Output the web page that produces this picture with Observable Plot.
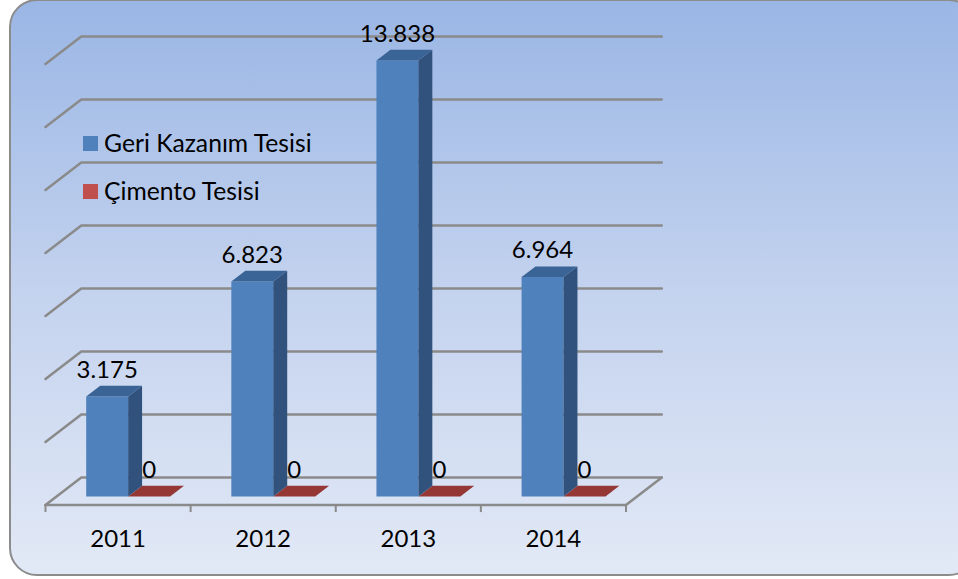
<!DOCTYPE html>
<html>
<head>
<meta charset="utf-8">
<script src="https://cdn.jsdelivr.net/npm/d3@7"></script>
<script src="https://cdn.jsdelivr.net/npm/@observablehq/plot@0.6"></script>
<style>
  html, body { margin: 0; padding: 0; background: #fff; }
  #stage { position: relative; width: 958px; height: 579px; overflow: hidden; font-family: Lato, sans-serif; color: #000; }
  #panel { position: absolute; box-sizing: border-box; left: 8.5px; top: -1px; width: 968px; height: 577px; border: 2px solid #8c8c8c; border-radius: 28px;
           background: linear-gradient(180deg, #9ab6e5 0%, #c3d2ee 50%, #e2e9f6 100%); }
  #chart { position: absolute; left: 0; top: 0; }
  #chart svg { background: transparent; display: block; }
  .lg { position: absolute; left: 83px; display: flex; align-items: center; font-size: 24.7px; line-height: 1; }
  .lg i { display: inline-block; width: 15px; height: 15px; margin-right: 6px; }
</style>
</head>
<body>
<div id="stage">
  <div id="panel"></div>
  <div id="chart"></div>
  <div class="lg" style="top:131px"><i style="background:#4f81bd"></i><span>Geri Kazanım Tesisi</span></div>
  <div class="lg" style="top:179px"><i style="background:#c0504d"></i><span>Çimento Tesisi</span></div>
</div>
<script>
const years = ["2011", "2012", "2013", "2014"];
const geriKazanim = [3175, 6823, 13838, 6964];
const cimento = [0, 0, 0, 0];
const gridValues = [0, 2000, 4000, 6000, 8000, 10000, 12000, 14000];
const fmt = v => d3.format(",")(v).replace(/,/g, ".");

// Oblique projection: depth d (0 front .. 1 back) shifts both scales by a data-unit amount.
const depthX = 0.2465, depthY = 873;
const P = (u, v, d) => ({x: u + depthX * d, y: v + depthY * d});

const barStart = 0.204, barW = 0.289, d0 = 0.31, d1 = 0.70;

function poly(id, pts) { return pts.map(p => ({id, ...p})); }

const front = [], side = [], top_ = [], redTop = [];
years.forEach((yr, i) => {
  const a = i + barStart, b = a + barW, c = b + barW, v = geriKazanim[i], w = cimento[i];
  front.push(...poly(yr, [P(a,0,d0), P(b,0,d0), P(b,v,d0), P(a,v,d0)]));
  side.push(...poly(yr, [P(b,0,d0), P(b,0,d1), P(b,v,d1), P(b,v,d0)]));
  top_.push(...poly(yr, [P(a,v,d0), P(b,v,d0), P(b,v,d1), P(a,v,d1)]));
  redTop.push(...poly(yr, [P(b,w,d0), P(c,w,d0), P(c,w,d1), P(b,w,d1)]));
});

const grid = gridValues.flatMap(v => poly(v, [P(0,v,0), P(0,v,1), P(4,v,1)]));
const floorEdge = poly("floor", [P(0,0,0), P(4,0,0), P(4,0,1)]);
const ticks = d3.range(0, 5);

const face = (data, fill) => Plot.line(data, {x: "x", y: "y", z: "id", fill, stroke: "none", curve: "linear"});

const labels = years.flatMap((yr, i) => {
  const a = i + barStart, b = a + barW, c = b + barW;
  return [
    {...P((a + b) / 2, geriKazanim[i], d0), t: fmt(geriKazanim[i])},
    {...P((b + c) / 2, cimento[i], d0), t: fmt(cimento[i])}
  ];
});

const chart = Plot.plot({
  width: 958,
  height: 579,
  margin: 0,
  style: {background: "transparent", overflow: "visible"},
  x: {type: "linear", domain: [0, 4], range: [45, 625.5], axis: null},
  y: {type: "linear", domain: [0, 14000], range: [504.5, 63.5], axis: null},
  marks: [
    Plot.line(grid, {x: "x", y: "y", z: "id", stroke: "#8a8a8a", strokeWidth: 2.5, strokeLinejoin: "miter"}),
    Plot.line(floorEdge, {x: "x", y: "y", z: "id", stroke: "#8a8a8a", strokeWidth: 2.5}),
    Plot.ruleX(ticks, {x: d => d, y1: 0, y2: -240, stroke: "#8a8a8a", strokeWidth: 2}),
    face(redTop, "#953735"),
    face(front, "#4f81bd"),
    face(side, "#31527d"),
    face(top_, "#3a6496"),
    Plot.text(labels, {x: "x", y: "y", text: "t", dy: -26.5, fontFamily: "Lato, sans-serif", fontSize: 24, fill: "#000", lineAnchor: "middle"}),
    Plot.text(years, {x: (d, i) => i + 0.5, y: 0, dy: 34, text: d => d, fontFamily: "Lato, sans-serif", fontSize: 24, fill: "#000", lineAnchor: "middle"})
  ]
});
document.getElementById("chart").appendChild(chart);
</script>
</body>
</html>
